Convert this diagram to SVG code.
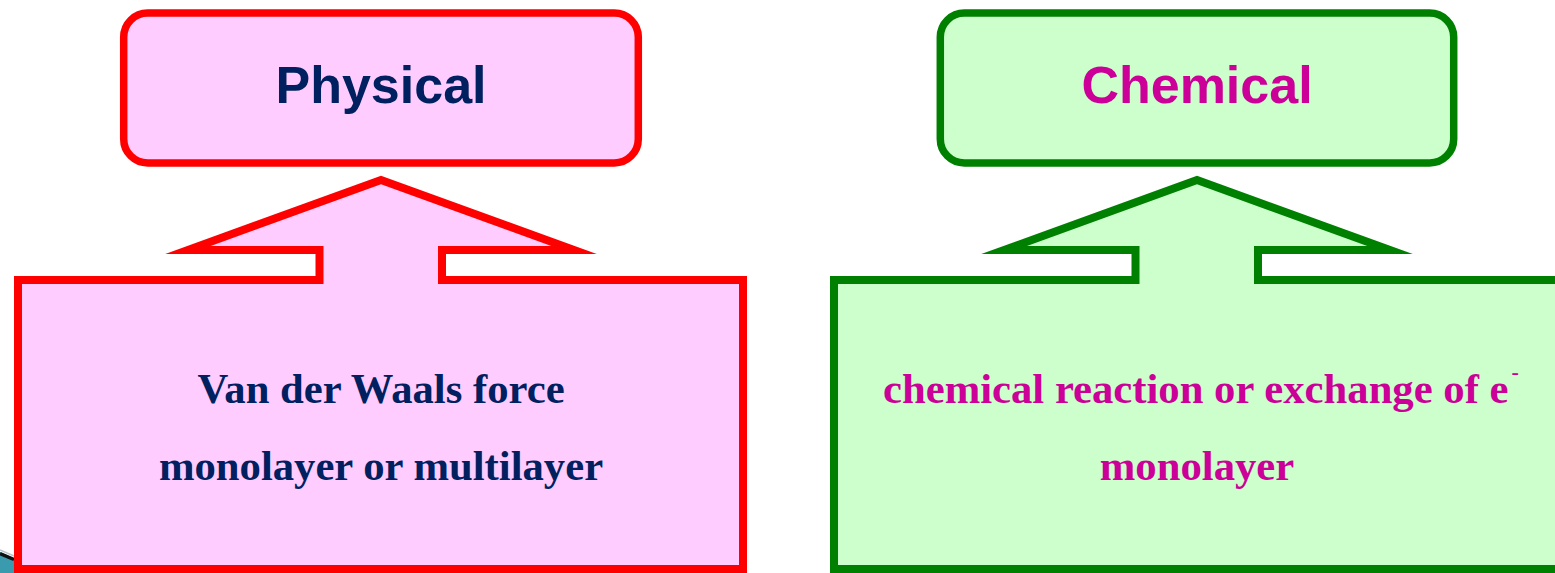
<svg xmlns="http://www.w3.org/2000/svg" width="1555" height="573" viewBox="0 0 1555 573">
  <style>
    .title { font-family: "Liberation Sans", Arial, sans-serif; font-weight: bold; font-size: 52px; text-anchor: middle; }
    .body { font-family: "Liberation Serif", "Times New Roman", serif; font-weight: bold; font-size: 42.7px; }
    .phys-shape { fill: #FFCCFF; stroke: #FF0000; }
    .chem-shape { fill: #CCFFCC; stroke: #008000; }
    .box { stroke-width: 7.5; }
    .callout { stroke-width: 8; stroke-linejoin: miter; stroke-miterlimit: 10; }
    .phys-text { fill: #002060; }
    .chem-text { fill: #CC0099; }
  </style>

  <g id="background-fragment">
    <polygon points="0,552 14,558 14,573 0,573" fill="#3A9BAE"/>
    <line x1="0" y1="550" x2="14" y2="556" stroke="#B8C4C8" stroke-width="1.5"/>
    <line x1="0" y1="553.5" x2="14" y2="559.5" stroke="#111111" stroke-width="3.5"/>
  </g>

  <g id="physical-title">
    <rect class="phys-shape box" x="123.7" y="13" width="514.6" height="150" rx="24" ry="24"/>
    <text class="title phys-text" x="381" y="103">Physical</text>
  </g>

  <g id="physical-callout">
    <polygon class="phys-shape callout" points="18,280 319.5,280 319.5,250 188,250 381,180 574,250 442,250 442,280 743,280 743,569 18,569"/>
    <text class="body phys-text" x="381" y="403" text-anchor="middle">Van der Waals force</text>
    <text class="body phys-text" x="381" y="480" text-anchor="middle">monolayer or multilayer</text>
  </g>

  <g id="chemical-title">
    <rect class="chem-shape box" x="940.3" y="13" width="513.4" height="150" rx="24" ry="24"/>
    <text class="title chem-text" x="1197" y="103">Chemical</text>
  </g>

  <g id="chemical-callout">
    <polygon class="chem-shape callout" points="834,280 1135.5,280 1135.5,250 1004,250 1197,180 1390,250 1258,250 1258,280 1559,280 1559,569 834,569"/>
    <text class="body chem-text" x="883" y="403">chemical reaction or exchange of e<tspan font-size="22" dx="3" dy="-24">-</tspan></text>
    <text class="body chem-text" x="1197" y="480" text-anchor="middle">monolayer</text>
  </g>

  <g id="connectors"></g>
</svg>
